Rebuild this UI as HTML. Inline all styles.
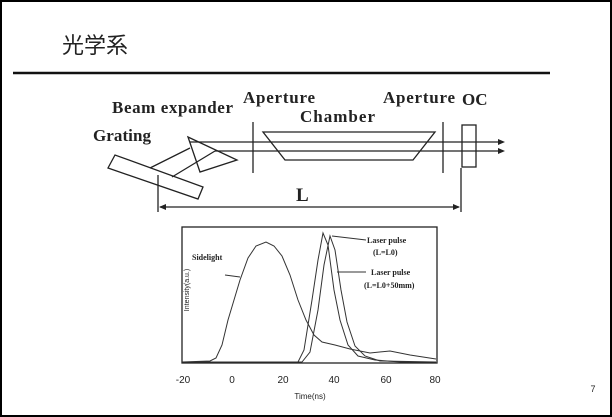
<!DOCTYPE html>
<html><head><meta charset="utf-8"><style>
body{margin:0;width:612px;height:417px;overflow:hidden;background:#fff}
svg{display:block}
</style></head><body>
<svg width="612" height="417" viewBox="0 0 612 417" xmlns="http://www.w3.org/2000/svg">
<rect x="1" y="1" width="610" height="415" fill="#fff" stroke="#000" stroke-width="2"/>
<text x="62" y="53" font-family="'Noto Sans CJK JP',sans-serif" font-size="22" fill="#222">光学系</text>
<line x1="13" y1="73" x2="550" y2="73" stroke="#111" stroke-width="2.5"/>
<g font-family="'Liberation Serif',serif" font-weight="bold" fill="#222">
<text x="112" y="113" font-size="17" textLength="121">Beam expander</text>
<text x="243" y="103" font-size="17" textLength="72">Aperture</text>
<text x="300" y="122" font-size="17" textLength="75">Chamber</text>
<text x="383" y="103" font-size="17" textLength="72">Aperture</text>
<text x="462" y="105" font-size="17">OC</text>
<text x="93" y="141" font-size="17" textLength="58">Grating</text>
<text x="296" y="201" font-size="19">L</text>
</g>
<g stroke="#222" stroke-width="1.3" fill="none">
<line x1="253" y1="122" x2="253" y2="173"/>
<line x1="443" y1="122" x2="443" y2="173"/>
<polygon points="263,132 435,132 413,160 285,160"/>
<rect x="462" y="125" width="14" height="42" fill="#fff"/>
<line x1="190" y1="142" x2="500" y2="142"/>
<line x1="215" y1="151" x2="500" y2="151"/>
<polygon points="188,137 237,160 200,172"/>
<polygon points="115,155 108,168 198,199 203,187"/>
<line x1="150" y1="168" x2="190" y2="148"/>
<line x1="172" y1="177" x2="215" y2="151"/>
<line x1="158" y1="175" x2="158" y2="212"/>
<line x1="461" y1="168" x2="461" y2="212"/>
<line x1="160" y1="207" x2="459" y2="207"/>
</g>
<g fill="#222">
<polygon points="505,142 498,139 498,145"/>
<polygon points="505,151 498,148 498,154"/>
<polygon points="159,207 166,204 166,210"/>
<polygon points="460,207 453,204 453,210"/>
</g>
<rect x="182" y="227" width="255" height="136" fill="none" stroke="#222" stroke-width="1.3"/>
<g stroke="#333" stroke-width="1" fill="none">
<path d="M182,362 L210,361 L216,358 L222,345 L228,320 L234,300 L240,280 L248,258 L256,246 L266,242 L274,246 L282,256 L290,275 L298,300 L306,320 L314,335 L322,342 L335,345 L350,349 L370,353 L390,351 L410,355 L436,359"/>
<path d="M182,362 L298,362 L304,350 L312,300 L318,260 L323,233 L328,245 L334,290 L340,320 L348,345 L358,356 L375,360 L400,362 L436,362"/>
<path d="M182,362 L302,362 L310,352 L318,310 L324,265 L330,236 L335,250 L341,290 L347,322 L355,346 L365,356 L380,361 L436,362"/>
<line x1="332" y1="236" x2="366" y2="240"/>
<line x1="337" y1="272" x2="366" y2="272"/>
<line x1="225" y1="275" x2="240" y2="277"/>
</g>
<g font-family="'Liberation Serif',serif" font-size="8" fill="#222" font-weight="bold">
<text x="192" y="260">Sidelight</text>
<text x="367" y="243">Laser pulse</text>
<text x="373" y="255">(L=L0)</text>
<text x="371" y="275">Laser pulse</text>
<text x="364" y="288">(L=L0+50mm)</text>
</g>
<g font-family="'Liberation Sans',sans-serif" font-size="10" fill="#222" text-anchor="middle">
<text x="183" y="383">-20</text>
<text x="232" y="383">0</text>
<text x="283" y="383">20</text>
<text x="334" y="383">40</text>
<text x="386" y="383">60</text>
<text x="435" y="383">80</text>
<text x="310" y="399" font-size="8">Time(ns)</text>
<text x="0" y="0" font-size="7" transform="translate(189,290) rotate(-90)">Intensity(a.u.)</text>
<text x="593" y="392" font-size="9">7</text>
</g>
</svg>
</body></html>
